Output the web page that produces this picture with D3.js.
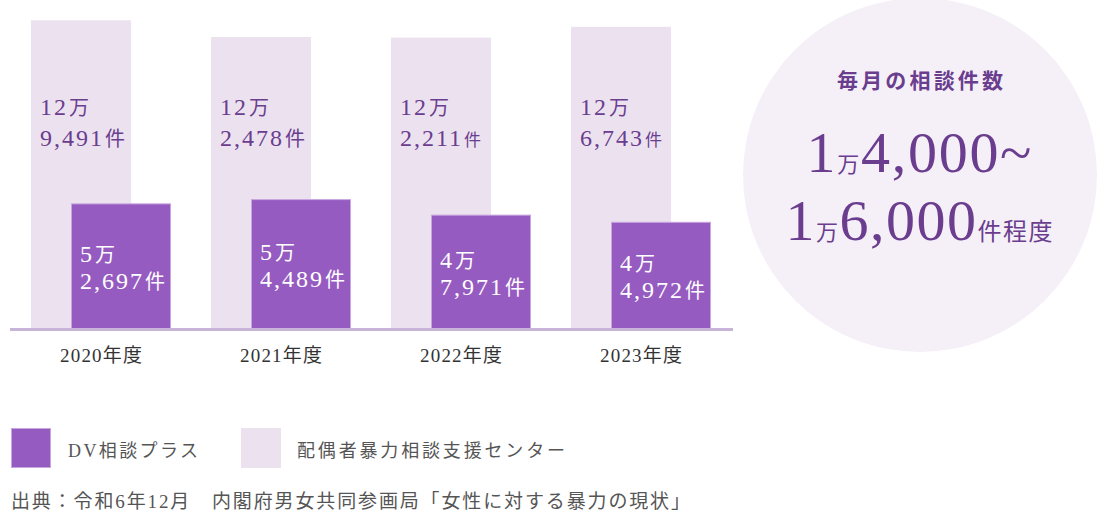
<!DOCTYPE html>
<html><head><meta charset="utf-8">
<script src="https://cdn.jsdelivr.net/npm/d3@7"></script>
<style>
html,body{margin:0;padding:0;background:#fff;}
svg{display:block;}
</style></head>
<body>
<svg id="chart" width="1098" height="516"></svg>
<script>
const years = ["2020年度","2021年度","2022年度","2023年度"];
const centerValues = [129491, 122478, 122211, 126743];
const plusValues = [52697, 54489, 47971, 44972];
const seriesNames = ["DV相談プラス", "配偶者暴力相談支援センター"];
const circleTitle = "毎月の相談件数";
const circleLine1 = [["1","big"],["万","small"],["4,000~","big"]];
const circleLine2 = [["1","big"],["万","small"],["6,000","big"],["件程度","unit"]];
const sourceText = "出典：令和6年12月　内閣府男女共同参画局「女性に対する暴力の現状」";

const serif = "'Liberation Serif','Noto Sans CJK JP',serif";
const cjk = "'Noto Sans CJK JP','Liberation Serif',sans-serif";
const svg = d3.select("#chart");

const x = d3.scaleBand().domain(years).range([11, 731]).paddingInner(40/180).paddingOuter(20/180);
const y = d3.scaleLinear().domain([0, 138000]).range([329, 0]);
const barW = x.bandwidth() * 100 / 140;
const offset = x.bandwidth() - barW;

const colBack = "#ece2ef", colFront = "#965bc0", colText = "#6a3d8f";

// background bars
svg.append("g").selectAll("rect").data(centerValues).join("rect")
  .attr("x", (d,i) => x(years[i]))
  .attr("y", d => y(d))
  .attr("width", barW)
  .attr("height", d => y(0) - y(d))
  .attr("fill", colBack);

// foreground bars
svg.append("g").selectAll("rect").data(plusValues).join("rect")
  .attr("x", (d,i) => x(years[i]) + offset + 0.5)
  .attr("y", d => y(d) + 0.5)
  .attr("width", barW - 1)
  .attr("height", d => y(0) - y(d))
  .attr("fill", colFront)
  .attr("stroke", "#c8a6e0")
  .attr("stroke-width", 1);

// baseline
svg.append("line").attr("x1", 10).attr("x2", 733).attr("y1", y(0) + 0.5).attr("y2", y(0) + 0.5)
  .attr("stroke", "#c9b4d9").attr("stroke-width", 3);

const manNum = v => String(Math.floor(v / 10000));
const rest = v => d3.format(",")(v % 10000);

function label(g, x0, yy, num, unit, unitSize) {
  const t = g.append("text").attr("x", x0).attr("y", yy);
  t.append("tspan").attr("font-size", 24).text(num);
  t.append("tspan").attr("font-size", unitSize).attr("dx", 1).text(unit);
}

// back labels
const bl = svg.append("g").attr("font-family", serif).attr("letter-spacing", 2).attr("fill", colText);
centerValues.forEach((v, i) => {
  const x0 = x(years[i]) + 9;
  label(bl, x0, 115, manNum(v), "万", 20);
  label(bl, x0, 146, rest(v), "件", i >= 2 ? 17 : 20);
});

// front labels (centered vertically in bar)
const fl = svg.append("g").attr("font-family", serif).attr("letter-spacing", 2).attr("fill", "#fff");
plusValues.forEach((v, i) => {
  const x0 = x(years[i]) + offset + 9;
  const mid = (y(v) + y(0)) / 2;
  label(fl, x0, mid - 4, manNum(v), "万", 20);
  label(fl, x0, mid + 23, rest(v), "件", 20);
});

// category labels
svg.append("g").selectAll("text").data(years).join("text")
  .attr("x", d => x(d) + x.bandwidth() / 2)
  .attr("y", 362)
  .attr("text-anchor", "middle")
  .attr("font-family", serif).attr("font-size", 19).attr("fill", "#333")
  .attr("textLength", 82).attr("lengthAdjust", "spacing")
  .text(d => d);

// circle
const cx = 920, cy = 175;
svg.append("circle").attr("cx", cx).attr("cy", cy).attr("r", 177).attr("fill", "#f5f0f7");
svg.append("text").attr("x", cx).attr("y", 88).attr("text-anchor", "middle")
  .attr("font-family", cjk).attr("font-weight", "bold").attr("font-size", 21)
  .attr("textLength", 166).attr("lengthAdjust", "spacing")
  .attr("fill", colText).text(circleTitle);

function bigLine(parts, yy, len) {
  const t = svg.append("text").attr("x", cx - 1).attr("y", yy).attr("text-anchor", "middle")
    .attr("font-family", serif).attr("fill", colText)
    .attr("textLength", len).attr("lengthAdjust", "spacing");
  parts.forEach(([s, k]) => {
    t.append("tspan").attr("font-size", k === "big" ? 58 : (k === "unit" ? 24 : 22)).text(s);
  });
}
bigLine(circleLine1, 172, 225);
bigLine(circleLine2, 240, 267);

// legend
const legend = svg.append("g");
const legendX = [11, 241], textX = [68, 297], textLen = [130, 268];
seriesNames.forEach((s, i) => {
  legend.append("rect").attr("x", legendX[i] + 0.5).attr("y", 428.5).attr("width", 39).attr("height", 39)
    .attr("fill", i === 0 ? colFront : colBack)
    .attr("stroke", i === 0 ? "#c8a6e0" : colBack);
  legend.append("text").attr("x", textX[i]).attr("y", 457)
    .attr("font-family", serif).attr("font-size", 18).attr("fill", "#555")
    .attr("textLength", textLen[i]).attr("lengthAdjust", "spacing").text(s);
});

// source
svg.append("text").attr("x", 11).attr("y", 508)
  .attr("font-family", serif).attr("font-size", 19).attr("fill", "#555")
  .attr("textLength", 679).attr("lengthAdjust", "spacing").text(sourceText);
</script>
</body></html>
